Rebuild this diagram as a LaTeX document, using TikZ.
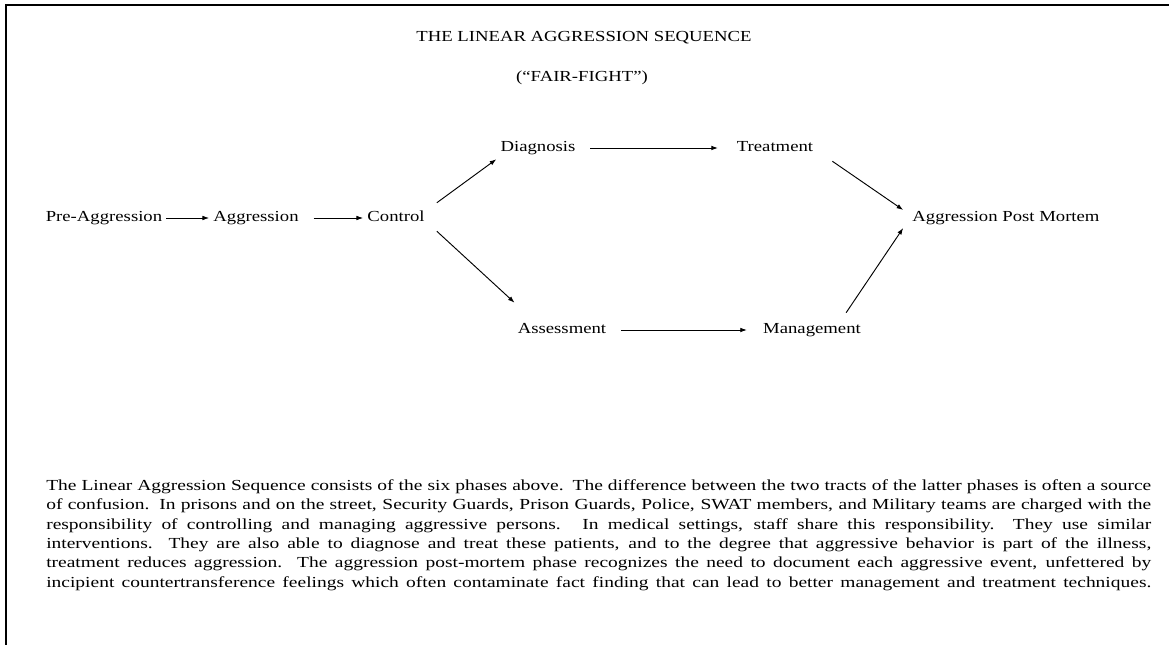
\documentclass[tikz,border=0pt]{standalone}
\usepackage{fontspec}
\setmainfont[FakeStretch=1.22]{Liberation Serif}
\newfontfamily\widefont[FakeStretch=1.27,Ligatures=TeX]{Liberation Serif}
\usetikzlibrary{arrows.meta,calc}

\tikzset{
  phase/.style={font=\fontsize{11.5}{13}\selectfont,inner sep=3pt,
                text height=8pt,text depth=2.5pt},
  flow/.style={-{Latex[length=5pt,width=3.5pt]},line width=0.7pt},
}

\begin{document}
\begin{tikzpicture}[x=0.75pt,y=-0.75pt]
    \useasboundingbox (0,0) rectangle (1169,645);

    % frame (top and left edge only)
    \draw[line width=1.2pt] (6,645) -- (6,5) -- (1169,5);

    % ── TITLE ─────────────────────────────────────────────
    \node[phase] (title) at (584,38) {THE LINEAR AGGRESSION SEQUENCE};
    \node[phase] (subtitle) at (582,78) {(``FAIR-FIGHT'')};

    % ── PHASES ────────────────────────────────────────────
    \node[phase] (pre)    at (104,218)  {Pre-Aggression};
    \node[phase] (agg)    at (256,218)  {Aggression};
    \node[phase] (ctrl)   at (396,218)  {Control};
    % upper tract
    \node[phase] (diag)   at (538,148)  {Diagnosis};
    \node[phase] (treat)  at (775,148)  {Treatment};
    % lower tract
    \node[phase] (assess) at (562,330)  {Assessment};
    \node[phase] (manage) at (812,330)  {Management};
    % end
    \node[phase] (apm)    at (1006,218) {Aggression Post Mortem};

    % ── ARROWS ────────────────────────────────────────────
    \draw[flow] (pre) -- (agg);
    \draw[flow,shorten <=8pt] (agg) -- (ctrl);
    \draw[flow] ($(ctrl.north east)+(8,-4)$) -- (diag.south west);
    \draw[flow] ($(ctrl.south east)+(8,2)$) -- ($(assess.north west)+(1,-16)$);
    \draw[flow,shorten <=8pt,shorten >=11pt] (diag) -- (treat);
    \draw[flow,shorten <=8pt,shorten >=9pt] (assess) -- (manage);
    \draw[flow] ($(treat.south east)+(15,2)$) -- ($(apm.west)+(-5,-8)$);
    \draw[flow] ($(manage.north east)+(-19,-6)$) -- ($(apm.west)+(-5,10)$);

    % ── TEXT ──────────────────────────────────────────────
    \node[anchor=north west,inner sep=0pt,text width=828.75pt,align=justify]
          (para) at (46,479)
      {\widefont\fontsize{11.5}{14.6}\selectfont\parfillskip=0pt
       \spaceskip=0.25em plus 0.3em minus 0.13em
       The Linear Aggression Sequence consists of the six phases above. The
       difference between the two tracts of the latter phases is often a
       source\linebreak
       of confusion. In prisons and on the street, Security Guards, Prison
       Guards, Police, SWAT members, and Military teams are charged with
       the\linebreak
       responsibility of controlling and managing aggressive persons. In
       medical settings, staff share this responsibility.\ \ They use
       similar\linebreak
       interventions.\ \ They are also able to diagnose and treat these
       patients, and to the degree that aggressive behavior is part of the
       illness,\linebreak
       treatment reduces aggression.\ \ The aggression post-mortem phase
       recognizes the need to document each aggressive event, unfettered
       by\linebreak
       incipient countertransference feelings which often contaminate fact
       finding that can lead to better management and treatment
       techniques.\par};

\end{tikzpicture}
\end{document}
